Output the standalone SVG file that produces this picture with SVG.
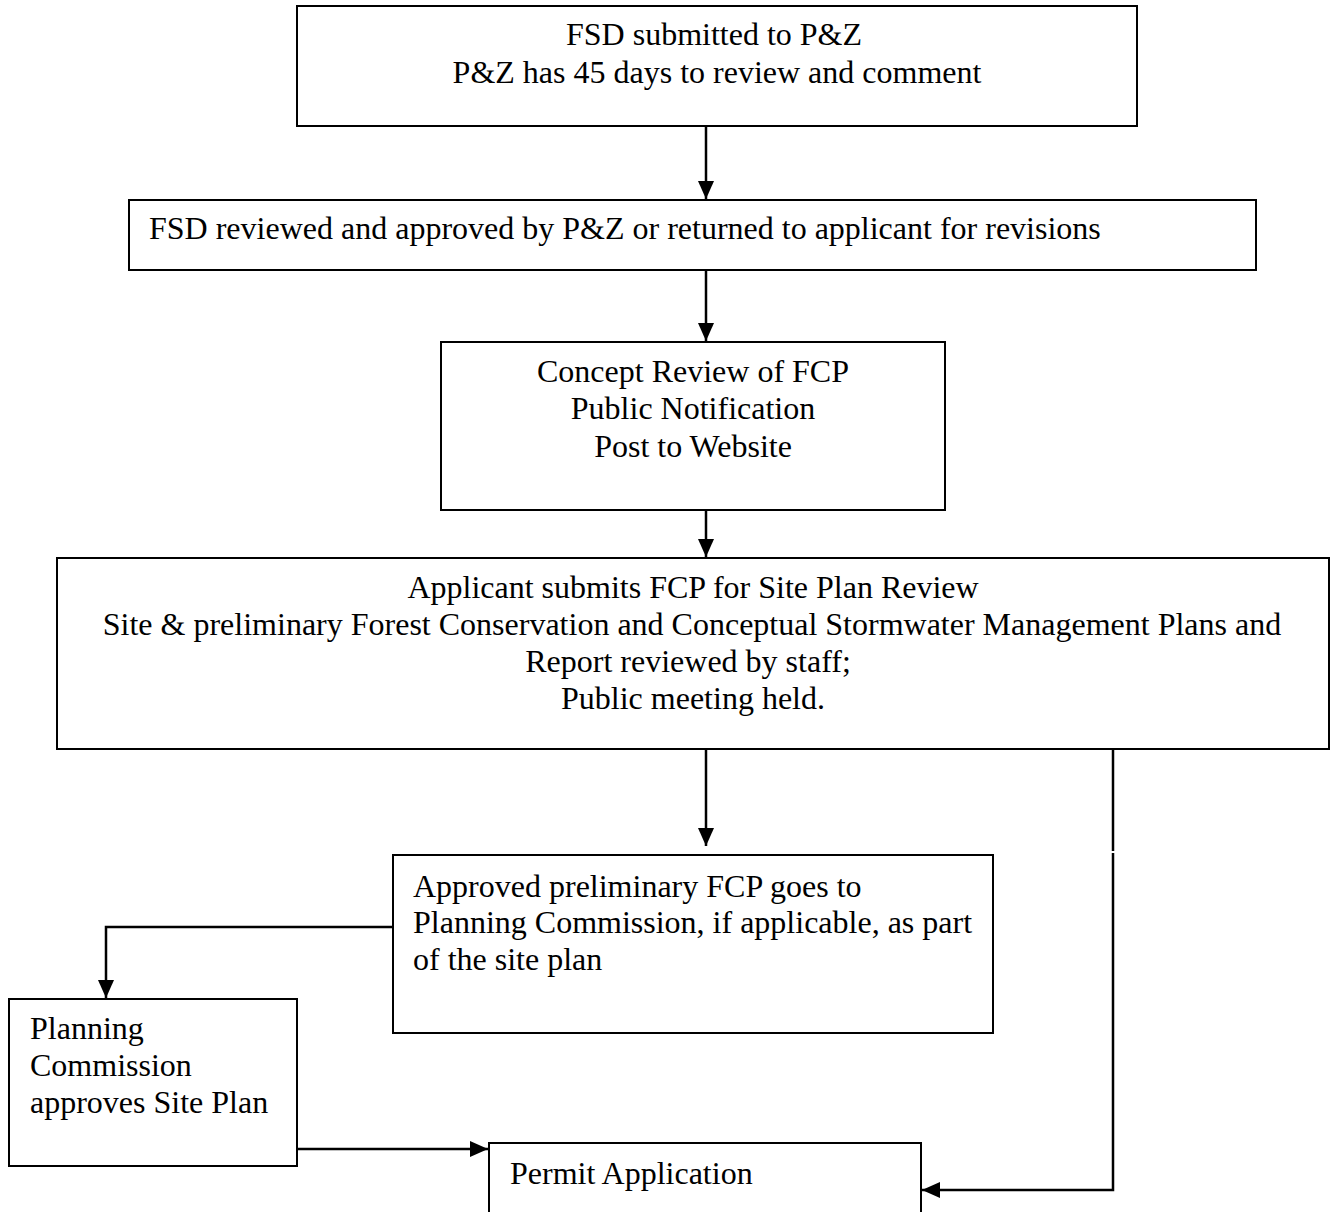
<svg xmlns="http://www.w3.org/2000/svg" width="1331" height="1212" viewBox="0 0 1331 1212">
<defs>
<marker id="arr" viewBox="0 0 18 16" refX="18" refY="8" markerWidth="18" markerHeight="16" orient="auto" markerUnits="userSpaceOnUse">
<path d="M0,0 L18,8 L0,16 Z" fill="#000"/>
</marker>
</defs>
<style>
.box{fill:#fff;stroke:#000;stroke-width:2}
.t{font-family:"Liberation Serif","Times New Roman",serif;font-size:32px;fill:#000}
.c{text-anchor:middle}
.ln{fill:none;stroke:#000;stroke-width:2.5}
</style>
<rect width="1331" height="1212" fill="#fff"/>
<g id="n1">
<rect class="box" x="297" y="6" width="840" height="120"/>
<text class="t c" x="714" y="45">FSD submitted to P&amp;Z</text>
<text class="t c" x="717" y="83">P&amp;Z has 45 days to review and comment</text>
</g>
<g id="n2">
<rect class="box" x="129" y="200" width="1127" height="70"/>
<text class="t" x="149" y="239">FSD reviewed and approved by P&amp;Z or returned to applicant for revisions</text>
</g>
<g id="n3">
<rect class="box" x="441" y="342" width="504" height="168"/>
<text class="t c" x="693" y="382">Concept Review of FCP</text>
<text class="t c" x="693" y="419">Public Notification</text>
<text class="t c" x="693" y="457">Post to Website</text>
</g>
<g id="n4">
<rect class="box" x="57" y="558" width="1272" height="191"/>
<text class="t c" x="693" y="598">Applicant submits FCP for Site Plan Review</text>
<text class="t c" x="692" y="635">Site &amp; preliminary Forest Conservation and Conceptual Stormwater Management Plans and</text>
<text class="t c" x="688" y="672">Report reviewed by staff;</text>
<text class="t c" x="693" y="709">Public meeting held.</text>
</g>
<g id="n5">
<rect class="box" x="393" y="855" width="600" height="178"/>
<text class="t" x="413" y="897">Approved preliminary FCP goes to</text>
<text class="t" x="413" y="933">Planning Commission, if applicable, as part</text>
<text class="t" x="413" y="970">of the site plan</text>
</g>
<g id="n6">
<rect class="box" x="9" y="999" width="288" height="167"/>
<text class="t" x="30" y="1039">Planning</text>
<text class="t" x="30" y="1076">Commission</text>
<text class="t" x="30" y="1113">approves Site Plan</text>
</g>
<g id="n7">
<path class="box" d="M489,1212 L489,1143 L921,1143 L921,1212"/>
<text class="t" x="510" y="1184">Permit Application</text>
</g>
<g id="connectors">
<line class="ln" x1="706" y1="126" x2="706" y2="199" marker-end="url(#arr)"/>
<line class="ln" x1="706" y1="270" x2="706" y2="341" marker-end="url(#arr)"/>
<line class="ln" x1="706" y1="510" x2="706" y2="557" marker-end="url(#arr)"/>
<line class="ln" x1="706" y1="749" x2="706" y2="846" marker-end="url(#arr)"/>
<polyline class="ln" points="393,927 106,927 106,998" marker-end="url(#arr)"/>
<line class="ln" x1="297" y1="1149" x2="488" y2="1149" marker-end="url(#arr)"/>
<line class="ln" x1="1113" y1="749" x2="1113" y2="851"/>
<polyline class="ln" points="1113,853 1113,1190 922,1190" marker-end="url(#arr)"/>
</g>
</svg>
